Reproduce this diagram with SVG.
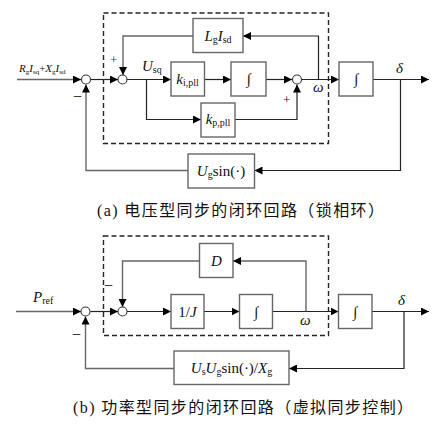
<svg xmlns="http://www.w3.org/2000/svg" width="439" height="429" viewBox="0 0 439 429">
<defs>
<marker id="ah" viewBox="0 0 10 10" refX="10" refY="5" markerWidth="8" markerHeight="8" markerUnits="userSpaceOnUse" orient="auto">
<path d="M0,0 L10,5 L0,10 Z" fill="#000"/>
</marker>
<style>
.ln{fill:none;stroke:#222;stroke-width:1.2}
.gl{fill:none;stroke:#666;stroke-width:1.4}
.blk{fill:#fff;stroke:#666;stroke-width:1.4}
.sum{fill:#fff;stroke:#333;stroke-width:1.1}
.dash{fill:none;stroke:#222;stroke-width:1.4;stroke-dasharray:5,3}
.m{font-family:"Liberation Serif",serif;font-size:15px;fill:#111}
.i{font-style:italic}
.s{font-size:10px}
.cap{font-family:"Liberation Serif","Noto Sans CJK SC",serif;font-size:16px;fill:#111;letter-spacing:1.4px}
.cj{font-family:"Noto Sans CJK SC",sans-serif}
</style>
</defs>

<!-- Panel (a) -->
<g id="frame-a"><rect class="dash" x="103.5" y="13" width="225" height="130.5"/></g>

<g id="connectors-a">
<path class="gl" d="M17,79.5 H81" marker-end="url(#ah)"/>
<path class="ln" d="M90.5,79.5 H118" marker-end="url(#ah)"/>
<path class="ln" d="M127,79.5 H171" marker-end="url(#ah)"/>
<path class="ln" d="M204.5,79.5 H231" marker-end="url(#ah)"/>
<path class="ln" d="M266,79.5 H292" marker-end="url(#ah)"/>
<path class="ln" d="M301.5,79.5 H339" marker-end="url(#ah)"/>
<path class="ln" d="M373,79.5 H429" marker-end="url(#ah)"/>
<path class="ln" d="M146.5,79.5 V119.5 H201" marker-end="url(#ah)"/>
<path class="ln" d="M235,119.5 H297 V84.5" marker-end="url(#ah)"/>
<path class="ln" d="M318.5,79.5 V36 H243" marker-end="url(#ah)"/>
<path class="gl" d="M193,36 H123 V75" marker-end="url(#ah)"/>
<path class="ln" d="M400.5,79.5 V170.5 H254.5" marker-end="url(#ah)"/>
<path class="gl" d="M188,170.5 H86 V84.5" marker-end="url(#ah)"/>
</g>

<g id="sum-a1"><circle class="sum" cx="86" cy="79.5" r="4.5"/></g>
<g id="sum-a2"><circle class="sum" cx="122.5" cy="79.5" r="4.5"/></g>
<g id="sum-a3"><circle class="sum" cx="297" cy="79.5" r="4.5"/></g>

<g id="blk-LgIsd"><rect class="blk" x="193" y="18.5" width="50" height="34"/>
<text class="m" x="218" y="41" text-anchor="middle"><tspan class="i">L</tspan><tspan class="s" dy="2">g</tspan><tspan class="i" dy="-2">I</tspan><tspan class="s" dy="2">sd</tspan></text></g>
<g id="blk-ki"><rect class="blk" x="171" y="62" width="33.5" height="34"/>
<text class="m" x="187.5" y="84" text-anchor="middle"><tspan class="i">k</tspan><tspan class="s" dy="2">i,pll</tspan></text></g>
<g id="blk-int-a"><rect class="blk" x="231" y="62" width="35" height="34"/>
<text class="m" x="248.5" y="84" text-anchor="middle">∫</text></g>
<g id="blk-kp"><rect class="blk" x="201" y="103" width="34" height="34"/>
<text class="m" x="218" y="124" text-anchor="middle"><tspan class="i">k</tspan><tspan class="s" dy="2">p,pll</tspan></text></g>
<g id="blk-int-a2"><rect class="blk" x="339" y="62" width="34" height="34"/>
<text class="m" x="356" y="84" text-anchor="middle">∫</text></g>
<g id="blk-Ugsin"><rect class="blk" x="188" y="154" width="66.5" height="34"/>
<text class="m" x="221" y="176" text-anchor="middle"><tspan class="i">U</tspan><tspan class="s" dy="2">g</tspan><tspan dy="-2">sin(·)</tspan></text></g>

<g id="labels-a">
<text class="m" x="19" y="72" style="font-size:11px"><tspan class="i">R</tspan><tspan style="font-size:7px" dy="1.5">g</tspan><tspan class="i" dy="-1.5">I</tspan><tspan style="font-size:7px" dy="1.5">sq</tspan><tspan dy="-1.5">+</tspan><tspan class="i">X</tspan><tspan style="font-size:7px" dy="1.5">g</tspan><tspan class="i" dy="-1.5">I</tspan><tspan style="font-size:7px" dy="1.5">sd</tspan></text>
<text class="m" x="73" y="102" style="font-size:16px">−</text>
<text class="m" x="110" y="64" style="font-size:13px;fill:#5a2a6a">+</text>
<text class="m" x="142" y="71"><tspan class="i">U</tspan><tspan class="s" dy="2">sq</tspan></text>
<text class="m" x="283" y="104" style="font-size:13px">+</text>
<text class="m i" x="313" y="92">ω</text>
<text class="m i" x="396" y="73">δ</text>
</g>

<g id="caption-a"><text class="cap" x="97" y="216">(a) <tspan class="cj">电压型同步的闭环回路（锁相环）</tspan></text></g>

<!-- Panel (b) -->
<g id="frame-b"><rect class="dash" x="103.5" y="236" width="225" height="99.5"/></g>

<g id="connectors-b">
<path class="gl" d="M16,311.5 H81" marker-end="url(#ah)"/>
<path class="ln" d="M90.5,311.5 H118" marker-end="url(#ah)"/>
<path class="ln" d="M127,311.5 H171" marker-end="url(#ah)"/>
<path class="ln" d="M204,311.5 H239.5" marker-end="url(#ah)"/>
<path class="ln" d="M272.5,311.5 H338.5" marker-end="url(#ah)"/>
<path class="ln" d="M372,311.5 H429" marker-end="url(#ah)"/>
<path class="gl" d="M306,311.5 V261 H233" marker-end="url(#ah)"/>
<path class="gl" d="M199.5,261 H122.5 V307" marker-end="url(#ah)"/>
<path class="ln" d="M404,311.5 V368.5 H289" marker-end="url(#ah)"/>
<path class="gl" d="M174,368.5 H85.5 V316.5" marker-end="url(#ah)"/>
</g>

<g id="sum-b1"><circle class="sum" cx="85.5" cy="311.5" r="4.5"/></g>
<g id="sum-b2"><circle class="sum" cx="122.5" cy="311.5" r="4.5"/></g>

<g id="blk-D"><rect class="blk" x="199.5" y="243.5" width="33.5" height="34"/>
<text class="m i" x="216.5" y="266" text-anchor="middle">D</text></g>
<g id="blk-1J"><rect class="blk" x="171" y="294.5" width="33" height="34"/>
<text class="m" x="187.5" y="316.5" text-anchor="middle">1/<tspan class="i">J</tspan></text></g>
<g id="blk-int-b"><rect class="blk" x="239.5" y="294.5" width="33" height="34"/>
<text class="m" x="256" y="316.5" text-anchor="middle">∫</text></g>
<g id="blk-int-b2"><rect class="blk" x="338.5" y="294.5" width="33.5" height="34"/>
<text class="m" x="355" y="316.5" text-anchor="middle">∫</text></g>
<g id="blk-UsUg"><rect class="blk" x="174" y="351" width="115" height="33.5"/>
<text class="m" x="231.5" y="373" text-anchor="middle"><tspan class="i">U</tspan><tspan class="s" dy="2">s</tspan><tspan class="i" dy="-2">U</tspan><tspan class="s" dy="2">g</tspan><tspan dy="-2">sin(·)/</tspan><tspan class="i">X</tspan><tspan class="s" dy="2">g</tspan></text></g>

<g id="labels-b">
<text class="m" x="33" y="302"><tspan class="i">P</tspan><tspan class="s" dy="2">ref</tspan></text>
<text class="m" x="72" y="340" style="font-size:16px">−</text>
<text class="m" x="104" y="291" style="font-size:16px">−</text>
<text class="m i" x="300" y="325">ω</text>
<text class="m i" x="398" y="305">δ</text>
</g>

<g id="caption-b"><text class="cap" x="73" y="413">(b) <tspan class="cj">功率型同步的闭环回路（虚拟同步控制）</tspan></text></g>
</svg>
